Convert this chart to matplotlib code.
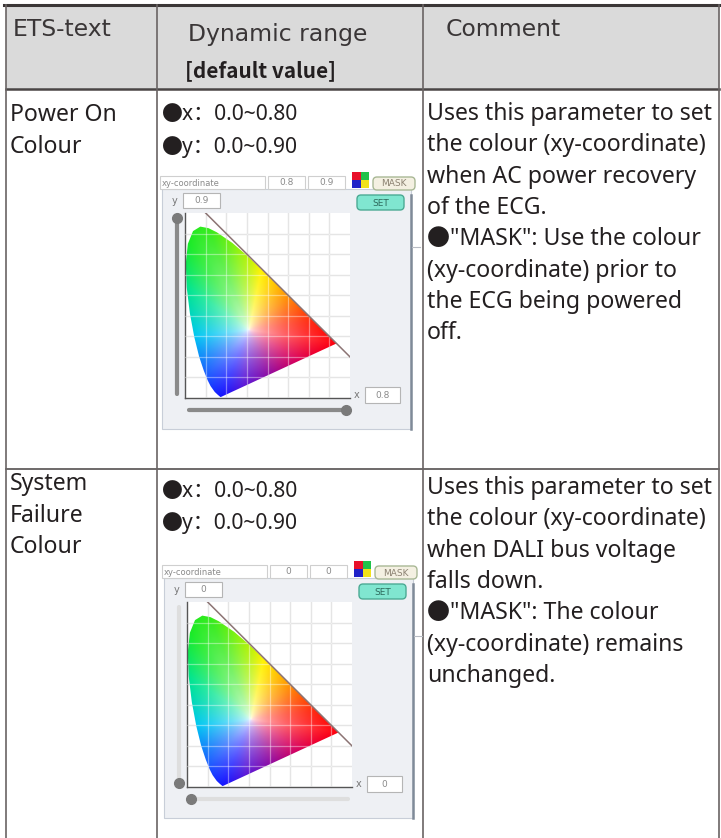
import numpy as np
import matplotlib
matplotlib.use("Agg")
import matplotlib.pyplot as plt
from matplotlib.patches import Rectangle, FancyBboxPatch, Polygon

plt.rcParams['font.family'] = ['Noto Sans', 'Noto Sans CJK SC', 'DejaVu Sans']

# ---- table content ----
header = ["ETS-text", "Dynamic range", "[default value]", "Comment"]
ets_text = [["Power On", "Colour"], ["System", "Failure", "Colour"]]
range_text = [["●x：0.0~0.80", "●y：0.0~0.90"], ["●x：0.0~0.80", "●y：0.0~0.90"]]
comments = [
    ["Uses this parameter to set", "the colour (xy-coordinate)",
     "when AC power recovery", "of the ECG.", "●\"MASK\": Use the colour",
     "(xy-coordinate) prior to", "the ECG being powered", "off."],
    ["Uses this parameter to set", "the colour (xy-coordinate)",
     "when DALI bus voltage", "falls down.", "●\"MASK\": The colour",
     "(xy-coordinate) remains", "unchanged."],
]

# widget settings shown in the screenshots (x, y)
widget_x = [0.8, 0.0]
widget_y = [0.9, 0.0]
widget_x_label = ["0.8", "0"]
widget_y_label = ["0.9", "0"]

# CIE 1931 spectral locus (x, y)
locus_x = [0.1741, 0.1714, 0.1644, 0.1566, 0.1440, 0.1241, 0.1096, 0.0913,
           0.0687, 0.0454, 0.0235, 0.0082, 0.0039, 0.0139, 0.0389, 0.0743,
           0.1142, 0.1547, 0.2296, 0.3016, 0.3731, 0.4441, 0.5125, 0.5752,
           0.6270, 0.6915, 0.7190, 0.7347]
locus_y = [0.0050, 0.0051, 0.0109, 0.0177, 0.0297, 0.0578, 0.0868, 0.1327,
           0.2007, 0.2950, 0.4127, 0.5384, 0.6548, 0.7502, 0.8120, 0.8338,
           0.8262, 0.8059, 0.7543, 0.6923, 0.6245, 0.5547, 0.4866, 0.4242,
           0.3725, 0.3083, 0.2809, 0.2653]

# colour of the gamut edge as it appears in the screenshot (x, y, rgb)
edge_x = [0.174, 0.10, 0.045, 0.008, 0.02, 0.11, 0.25, 0.37, 0.50, 0.62, 0.735, 0.55, 0.40, 0.28]
edge_y = [0.005, 0.10, 0.30, 0.54, 0.75, 0.83, 0.74, 0.62, 0.49, 0.37, 0.265, 0.18, 0.11, 0.06]
edge_rgb = [(0.08, 0.08, 1.0), (0.10, 0.35, 1.0), (0.0, 0.78, 0.95), (0.0, 0.9, 0.55),
            (0.1, 0.92, 0.15), (0.2, 0.92, 0.1), (0.55, 0.95, 0.05), (1.0, 0.95, 0.0),
            (1.0, 0.55, 0.0), (1.0, 0.15, 0.05), (1.0, 0.0, 0.05), (0.85, 0.0, 0.35),
            (0.55, 0.05, 0.65), (0.35, 0.1, 0.85)]
white_xy = (0.31, 0.33)

W, H = 721, 838
fig = plt.figure(figsize=(W / 100, H / 100), dpi=100)
ax = fig.add_axes([0, 0, 1, 1])
ax.set_xlim(0, W)
ax.set_ylim(H, 0)
ax.axis("off")

# ---- table frame ----
col_x = [6, 157, 423, 719]
header_bottom = 89
row_sep = 469
ax.add_patch(Rectangle((col_x[0], 5), col_x[3] - col_x[0], header_bottom - 5,
                       facecolor="#dadada", edgecolor="none", zorder=0))
ax.plot([4, W], [5, 5], color="#3b3636", lw=2.2, zorder=3)
ax.plot([col_x[0], col_x[3]], [header_bottom, header_bottom], color="#4a4545", lw=1.8, zorder=3)
ax.plot([col_x[0], col_x[3]], [row_sep, row_sep], color="#555050", lw=1.2, zorder=3)
for cx in col_x:
    ax.plot([cx, cx], [5, H], color="#6a6464", lw=1.2, zorder=3)

FS = 16.6
txt = dict(color="#231f20", va="center", ha="left")
hdr = dict(color="#3a3637", va="center", ha="left", family="DejaVu Sans", fontsize=16.9)
ax.text(13, 30, header[0], **hdr)
ax.text(188, 35, header[1], **hdr)
ax.text(185, 71, header[2], fontsize=15, fontweight="bold",
        family=["Noto Sans CJK TC", "DejaVu Sans"], **txt)
ax.text(446, 30, header[3], **hdr)

ets_y = [[115, 147], [484, 516, 547]]
range_y = [[114, 147], [491, 523]]
comment_y0 = [114, 488]
for r in range(2):
    for s, yy in zip(ets_text[r], ets_y[r]):
        ax.text(10, yy, s, fontsize=FS, **txt)
    for s, yy in zip(range_text[r], range_y[r]):
        ax.text(162, yy, s, fontsize=15.1, **txt)
    for i, s in enumerate(comments[r]):
        ax.text(427, comment_y0[r] + i * 31.3, s, fontsize=FS, **txt)


def gamut_rgb(n=300):
    xs = np.linspace(0, 0.8, n)
    ys = np.linspace(0, 0.9, n)
    X, Y = np.meshgrid(xs, ys)
    wx, wy = white_xy
    dx, dy = X - wx, Y - wy
    dist = np.hypot(dx, dy) + 1e-9
    ux, uy = dx / dist, dy / dist
    px = np.array(locus_x + [locus_x[0]])
    py = np.array(locus_y + [locus_y[0]])
    rad = np.full(X.shape, np.inf)
    for k in range(len(px) - 1):
        ax_, ay_ = px[k] - wx, py[k] - wy
        ex, ey = px[k + 1] - px[k], py[k + 1] - py[k]
        den = ux * ey - uy * ex
        den = np.where(np.abs(den) < 1e-12, 1e-12, den)
        s = (ax_ * ey - ay_ * ex) / den
        t = (ax_ * uy - ay_ * ux) / den
        ok = (s > 0) & (t >= 0) & (t <= 1)
        rad = np.where(ok, np.minimum(rad, s), rad)
    frac = np.clip(dist / rad, 0, 1) ** 0.55
    ang = np.arctan2(dy, dx)
    e_ang = np.arctan2(np.array(edge_y) - wy, np.array(edge_x) - wx)
    order = np.argsort(e_ang)
    cols = np.array(edge_rgb)[order]
    rgb = np.stack([np.interp(ang, e_ang[order], cols[:, c], period=2 * np.pi)
                    for c in range(3)], axis=-1)
    rgb = 1 - frac[..., None] * (1 - rgb)
    return np.clip(rgb, 0, 1)


rgb_img = gamut_rgb()


def box(x0, y0, x1, y1, label, fc="white", ec="#cfcfcf", tc="#8a8a8a"):
    ax.add_patch(Rectangle((x0, y0), x1 - x0, y1 - y0, facecolor=fc,
                           edgecolor=ec, lw=0.8, zorder=4))
    if label:
        ax.text((x0 + x1) / 2, (y0 + y1) / 2, label, fontsize=6.5, color=tc,
                ha="center", va="center", family="DejaVu Sans", zorder=5)


def button(x0, y0, x1, y1, label, fc, ec, tc):
    ax.add_patch(FancyBboxPatch((x0, y0), x1 - x0, y1 - y0,
                                boxstyle="round,pad=0,rounding_size=4",
                                facecolor=fc, edgecolor=ec, lw=1.0, zorder=4))
    ax.text((x0 + x1) / 2, (y0 + y1) / 2 + 0.5, label, fontsize=6.5, color=tc,
            ha="center", va="center", family="DejaVu Sans", zorder=5)


def widget(i, dx, dy):
    # panel
    ax.add_patch(Rectangle((162 + dx, 189 + dy), 249, 240, facecolor="#eef0f4",
                           edgecolor="#c8ced8", lw=0.8, zorder=3))
    ax.plot([411 + dx, 411 + dx], [195 + dy, 429 + dy], color="#7f8a98", lw=1.8, zorder=4)
    ax.plot([412 + dx, 420 + dx], [247 + dy, 247 + dy], color="#b8bcc4", lw=0.8, zorder=4)
    # top bar
    box(160 + dx, 176 + dy, 265 + dx, 189 + dy, "")
    ax.text(162 + dx, 183 + dy, "xy-coordinate", fontsize=6, color="#8a8a8a",
            va="center", family="DejaVu Sans", zorder=5)
    box(268 + dx, 176 + dy, 305 + dx, 189 + dy, widget_x_label[i])
    box(308 + dx, 176 + dy, 345 + dx, 189 + dy, widget_y_label[i])
    for (qx, qy, c) in [(0, 0, "#e8102a"), (1, 0, "#21c24a"), (0, 1, "#1f22c8"), (1, 1, "#f2e21a")]:
        ax.add_patch(Rectangle((352 + dx + qx * 8.5, 172 + dy + qy * 8), 8.5, 8,
                               facecolor=c, edgecolor="none", zorder=4))
    button(373 + dx, 177 + dy, 415 + dx, 190 + dy, "MASK", "#f4f0e2", "#a9b895", "#8c8272")
    button(357 + dx, 195 + dy, 404 + dx, 210 + dy, "SET", "#80e6d0", "#4caa94", "#2d6a5c")
    # y / x entry boxes
    ax.text(175 + dx, 201 + dy, "y", fontsize=7, color="#777777", ha="center",
            va="center", family="DejaVu Sans", zorder=5)
    box(183 + dx, 193 + dy, 220 + dx, 208 + dy, widget_y_label[i], ec="#b5b5b5")
    ax.text(357 + dx, 395 + dy, "x", fontsize=7, color="#777777", ha="center",
            va="center", family="DejaVu Sans", zorder=5)
    box(365 + dx, 387 + dy, 400 + dx, 403 + dy, widget_x_label[i], ec="#b5b5b5")

    # chromaticity plot
    left, top = 185 + dx, 213 + dy
    pax = fig.add_axes([left / W, 1 - (top + 185) / H, 165 / W, 185 / H])
    pax.set_xlim(0, 0.8)
    pax.set_ylim(0, 0.9)
    pax.set_facecolor("white")
    ticks_x = np.arange(0.1, 0.8, 0.1)
    ticks_y = np.arange(0.1, 0.9, 0.1)
    for t in ticks_x:
        pax.axvline(t, color="#d4d4d4", lw=0.9, zorder=0)
        pax.axvline(t, color="white", lw=0.9, alpha=0.4, zorder=3)
    for t in ticks_y:
        pax.axhline(t, color="#d4d4d4", lw=0.9, zorder=0)
        pax.axhline(t, color="white", lw=0.9, alpha=0.4, zorder=3)
    im = pax.imshow(rgb_img, origin="lower", extent=(0, 0.8, 0, 0.9),
                    aspect="auto", interpolation="bilinear", zorder=2)
    poly = Polygon(np.column_stack([locus_x, locus_y]), closed=True,
                   transform=pax.transData, facecolor="none", edgecolor="none")
    pax.add_patch(poly)
    im.set_clip_path(poly)
    pax.plot([0.1, 0.8], [0.9, 0.2], color="#8c7474", lw=1.1, zorder=4)
    for s in ["top", "right"]:
        pax.spines[s].set_visible(False)
    for s in ["left", "bottom"]:
        pax.spines[s].set_color("#555555")
        pax.spines[s].set_linewidth(1.0)
    pax.set_xticks([])
    pax.set_yticks([])

    # sliders (value drives filled part and knob)
    vy0, vy1 = 0.02, 0.875
    ky = vy0 + widget_y[i] / 0.9 * (vy1 - vy0)
    pax.plot([-0.04, -0.04], [vy0, vy1], color="#dedede", lw=3, solid_capstyle="round", clip_on=False)
    pax.plot([-0.04, -0.04], [vy0, ky], color="#8a8a8a", lw=3, solid_capstyle="round", clip_on=False)
    pax.plot([-0.04], [ky], "o", color="#7a7a7a", ms=7, clip_on=False)
    hx0, hx1 = 0.02, 0.78
    kx = hx0 + widget_x[i] / 0.8 * (hx1 - hx0)
    pax.plot([hx0, hx1], [-0.06, -0.06], color="#dedede", lw=3, solid_capstyle="round", clip_on=False)
    pax.plot([hx0, kx], [-0.06, -0.06], color="#8a8a8a", lw=3, solid_capstyle="round", clip_on=False)
    pax.plot([kx], [-0.06], "o", color="#7a7a7a", ms=7, clip_on=False)


widget(0, 0, 0)
widget(1, 2, 389)

fig.savefig("out.png", dpi=100, facecolor="white")
